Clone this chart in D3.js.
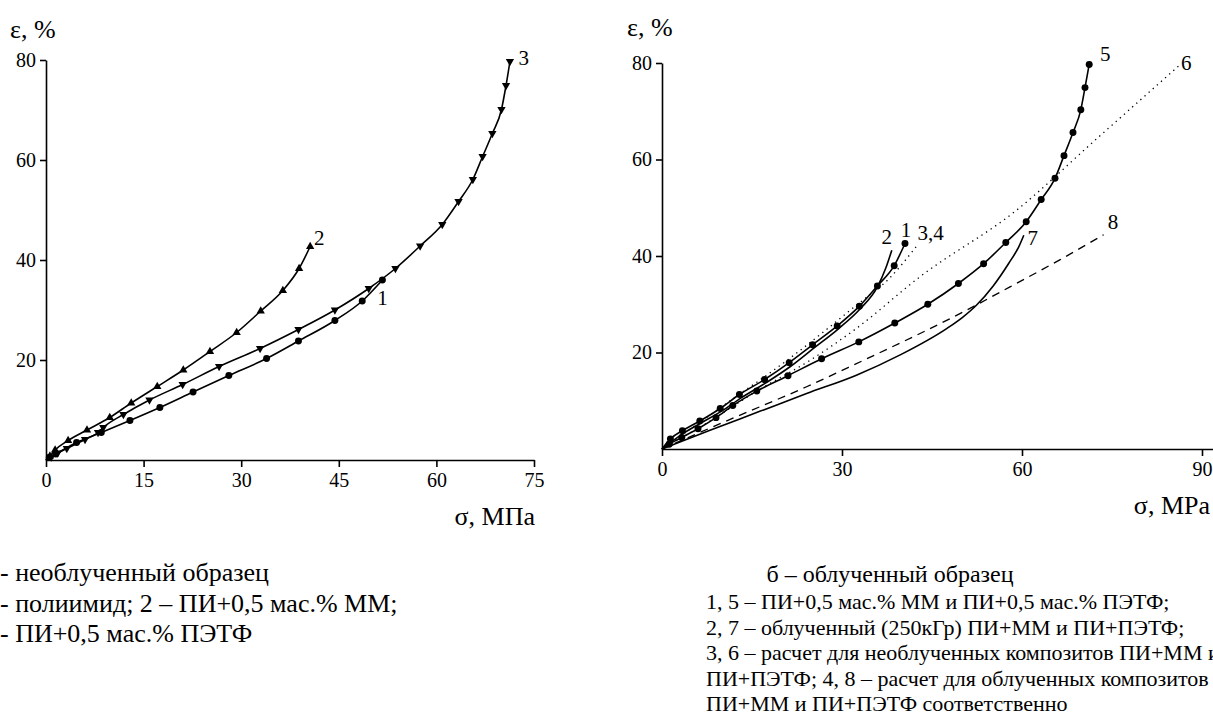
<!DOCTYPE html>
<html>
<head>
<meta charset="utf-8">
<script src="https://cdn.jsdelivr.net/npm/d3@7"></script>
<style>
  body { margin: 0; background: #fff; }
  svg { display: block; }
  text { font-family: "Liberation Serif", "Times New Roman", "DejaVu Serif", serif; fill: #000; }
</style>
</head>
<body>
<div id="chart"></div>
<script>
// data, [sigma, eps]
// а - unirradiated
var left1 = [[0,0],[0.5,0.5],[1.5,1.2],[4.7,3.5],[8.5,5.5],[12.9,7.9],[17.5,10.5],[22.6,13.6],
  [28.1,16.9],[33.9,20.3],[38.8,23.8],[44.4,27.9],[48.6,31.8],[51.7,36]];
var left2 = [[0,0],[0.6,0.8],[1.4,2],[3.4,3.9],[6.3,6],[9.8,8.5],[13.1,11.4],[17.1,14.7],[21.1,18],
  [25.2,21.7],[29.3,25.5],[33,29.8],[36.4,33.9],[38.9,38.3],[40.6,42.7]];
var left3 = [[0,0],[0.8,0.6],[1.8,1.4],[3.2,2.3],[6,4.1],[8,5.5],[8.8,6.5],[11.9,9.1],[15.9,12],[21,15.1],
  [26.6,18.7],[32.9,22.3],[38.8,26.1],[44.4,30],[49.6,34.3],[53.7,38.3],[57.5,42.8],
  [60.9,47.1],[63.4,51.7],[65.6,56.1],[67.1,60.7],[68.6,65.3],[70,70.1],[70.7,74.9],[71.3,79.7]];

// б - irradiated
var right1 = [[0,0],[1.4,2.1],[3.4,3.8],[6.3,5.8],[9.7,8.4],[12.9,11.3],[17.1,14.4],[21.2,17.9],
  [25.1,21.6],[29.2,25.5],[32.9,29.6],[35.9,33.8],[38.7,38],[40.5,42.6]];
var right2 = [[0,0],[3.5,3.2],[6.5,5.4],[10,7.9],[13.2,10.6],[17.3,13.7],[21.4,17.1],[25.3,20.9],
  [29.4,24.9],[33,29],[35.9,33.6],[37.3,37.5],[38.3,41.2]];
var right34 = [[0,0],[5,4.4],[10,8.8],[21.3,18.8],[32.4,29.8],[38,35.5],[42.4,42]];
var right5 = [[0,0],[1.2,1],[3.3,2.4],[6,4.2],[9,6.5],[11.8,9],[15.8,12],[21,15.2],[26.6,18.7],
  [32.8,22.2],[38.8,26.1],[44.3,30],[49.4,34.3],[53.6,38.4],[57.3,42.8],[60.7,47.1],
  [63.2,51.7],[65.5,56.1],[67,60.8],[68.5,65.6],[69.8,70.3],[70.5,74.9],[71.2,79.7]];
var right6 = [[0,0],[8,5.8],[15.8,12],[24.7,18.4],[32.4,25],[43,35.7],[59.1,49.5],[72,63.8],[86.3,79.6]];
var right7 = [[0,0],[8,3.9],[16.3,7.8],[24.1,11.5],[32.4,15.3],[39.7,19.5],[47.5,25],[50.2,27.4],
  [52.4,29.8],[55.2,33.8],[57.8,38.5],[59.5,42],[60.3,44.3]];
var right8 = [[0,0],[12.4,6.7],[24.1,12.9],[31.9,17.4],[50.8,28.8],[58,33.6],[66.3,39.2],[73.6,44.4]];

var leftXTicks = [0, 15, 30, 45, 60, 75];
var rightXTicks = [0, 30, 60, 90];
var yTicks = [20, 40, 60, 80];

var leftCaption = [
  "- необлученный образец",
  "- полиимид; 2 – ПИ+0,5 мас.% ММ;",
  "- ПИ+0,5 мас.% ПЭТФ"
];
var rightTitle = "б – облученный образец";
var rightCaption = [
  "1, 5 – ПИ+0,5 мас.% ММ и ПИ+0,5 мас.% ПЭТФ;",
  "2, 7 – облученный (250кГр) ПИ+ММ и ПИ+ПЭТФ;",
  "3, 6 – расчет для необлученных композитов ПИ+ММ и",
  "ПИ+ПЭТФ; 4, 8 – расчет для облученных композитов",
  "ПИ+ММ и ПИ+ПЭТФ соответственно"
];

var svg = d3.select("#chart").append("svg")
  .attr("width", 1213)
  .attr("height", 717);

function drawPanel(p) {
  var g = svg.append("g");
  var x = d3.scaleLinear().domain(p.xDomain).range(p.xRange);
  var y = d3.scaleLinear().domain([0, 80]).range(p.yRange);

  g.append("g")
    .attr("transform", "translate(0," + p.yRange[0] + ")")
    .call(d3.axisBottom(x).tickValues(p.xTicks).tickSize(7).tickSizeOuter(0).tickPadding(6))
    .call(function (a) {
      a.attr("font-family", null);
      a.selectAll("text").style("font-size", "20px");
    });

  g.append("g")
    .attr("transform", "translate(" + p.xRange[0] + ",0)")
    .call(d3.axisLeft(y).tickValues(yTicks).tickSize(6).tickSizeOuter(0).tickPadding(4))
    .call(function (a) {
      a.attr("font-family", null);
      a.selectAll("text").style("font-size", "20px");
    });

  g.selectAll(".domain, .tick line").attr("stroke", "#000").attr("stroke-width", 1.6);

  var line = d3.line()
    .x(function (d) { return x(d[0]); })
    .y(function (d) { return y(d[1]); })
    .curve(d3.curveMonotoneX);

  p.series.forEach(function (s) {
    g.append("path")
      .datum(s.data)
      .attr("d", line)
      .attr("fill", "none")
      .attr("stroke", "#000")
      .attr("stroke-width", s.dash ? 1.3 : 1.6)
      .attr("stroke-dasharray", s.dash || null);

    if (s.marker) {
      var sym = d3.symbol()
        .type(s.marker == "circle" ? d3.symbolCircle : d3.symbolTriangle)
        .size(s.marker == "circle" ? 38 : 30);
      g.selectAll(null)
        .data(s.data.slice(1))
        .enter().append("path")
        .attr("d", sym)
        .attr("fill", "#000")
        .attr("transform", function (d) {
          return "translate(" + x(d[0]) + "," + y(d[1]) + ")" + (s.marker == "down" ? " rotate(180)" : "");
        });
    }
  });

  p.labels.forEach(function (l) {
    g.append("text")
      .attr("x", x(l[1]))
      .attr("y", y(l[2]))
      .style("font-size", "21px")
      .text(l[0]);
  });

  g.append("text")
    .attr("x", p.yTitle[0]).attr("y", p.yTitle[1])
    .style("font-size", "26px")
    .text("ε, %");
  g.append("text")
    .attr("x", p.xTitle[0]).attr("y", p.xTitle[1])
    .attr("text-anchor", "end")
    .style("font-size", "26px")
    .text(p.xTitle[2]);
}

drawPanel({
  xDomain: [0, 75], xRange: [46, 534], yRange: [460, 60],
  xTicks: leftXTicks,
  series: [
    { data: left1, marker: "circle" },
    { data: left2, marker: "up" },
    { data: left3, marker: "down" }
  ],
  labels: [["1", 50.9, 31], ["2", 41.2, 43], ["3", 72.6, 79]],
  yTitle: [10, 38], xTitle: [535, 525, "σ, МПа"]
});

drawPanel({
  xDomain: [0, 92.5], xRange: [662, 1217], yRange: [449, 63],
  xTicks: rightXTicks,
  series: [
    { data: right34, dash: "1.3,4.2" },
    { data: right6, dash: "1.3,4.2" },
    { data: right8, dash: "8,6" },
    { data: right7 },
    { data: right2 },
    { data: right1, marker: "circle" },
    { data: right5, marker: "circle" }
  ],
  labels: [["2", 36.6, 42.5], ["1", 39.8, 44], ["3,4", 42.6, 43.4], ["5", 73, 80.5],
    ["6", 86.5, 78.5], ["7", 60.9, 42.3], ["8", 74.3, 45.5]],
  yTitle: [627, 36], xTitle: [1210, 514, "σ, MPa"]
});

// captions
svg.selectAll(".capL")
  .data(leftCaption)
  .enter().append("text")
  .attr("x", 0)
  .attr("y", function (d, i) { return 581 + i * 30.5; })
  .style("font-size", "26px")
  .text(function (d) { return d; });

svg.append("text")
  .attr("x", 890).attr("y", 582)
  .attr("text-anchor", "middle")
  .style("font-size", "24px")
  .text(rightTitle);

svg.selectAll(".capR")
  .data(rightCaption)
  .enter().append("text")
  .attr("x", 706)
  .attr("y", function (d, i) { return 609 + i * 25.5; })
  .style("font-size", "22px")
  .text(function (d) { return d; });
</script>
</body>
</html>
